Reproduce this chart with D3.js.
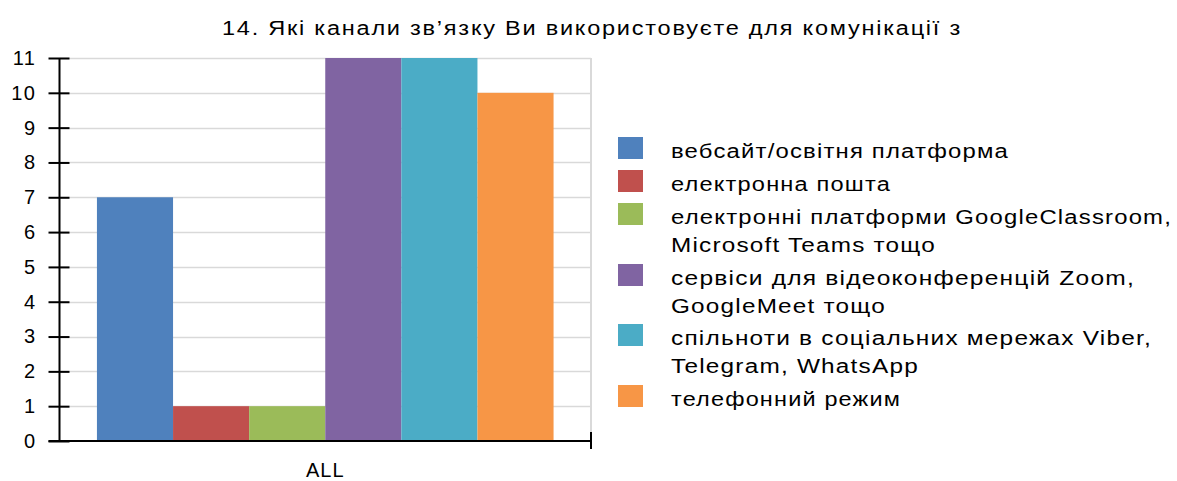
<!DOCTYPE html>
<html><head><meta charset="utf-8">
<script src="https://cdn.jsdelivr.net/npm/d3@7"></script>
<style>
html,body{margin:0;padding:0;background:#fff;}
text{font-family:"Liberation Sans",Arial,sans-serif;fill:#000;}
</style></head>
<body>
<svg id="chart" width="1177" height="481"></svg>
<script>
const title = "14. Які канали зв’язку Ви використовуєте для комунікації з";
const categories = ["ALL"];
const seriesNames = [
  "вебсайт/освітня платформа",
  "електронна пошта",
  "електронні платформи GoogleClassroom, Microsoft Teams тощо",
  "сервіси для відеоконференцій Zoom, GoogleMeet тощо",
  "спільноти в соціальних мережах Viber, Telegram, WhatsApp",
  "телефонний режим"
];
const legendLines = [
  ["вебсайт/освітня платформа"],
  ["електронна пошта"],
  ["електронні платформи GoogleClassroom,", "Microsoft Teams тощо"],
  ["сервіси для відеоконференцій Zoom,", "GoogleMeet тощо"],
  ["спільноти в соціальних мережах Viber,", "Telegram, WhatsApp"],
  ["телефонний режим"]
];
const legendWidths = [[338], [220], [501, 265], [464, 215], [481, 248], [230]];
const values = [7, 1, 1, 11, 11, 10];
const colors = ["#4F81BD", "#C0504D", "#9BBB59", "#8064A2", "#4BACC6", "#F79646"];
const yTicks = [0,1,2,3,4,5,6,7,8,9,10,11];

const svg = d3.select("#chart");
const mLeft = 59.5, mRight = 591, mTop = 58, mBottom = 441;

const y = d3.scaleLinear().domain([0, 11]).range([mBottom, mTop]);
const x0 = d3.scaleBand().domain(categories).range([mLeft, mRight]).paddingInner(0).paddingOuter(0.082);
const x1 = d3.scaleBand().domain(seriesNames).range([0, x0.bandwidth()]);

// title
svg.append("text").attr("x", 222).attr("y", 35).attr("font-size", 20).attr("letter-spacing", 1.5)
  .attr("textLength", 740).attr("lengthAdjust", "spacingAndGlyphs").text(title);

// gridlines
svg.append("g").selectAll("line").data(yTicks.slice(1)).join("line")
  .attr("x1", mLeft).attr("x2", mRight)
  .attr("y1", d => Math.round(y(d)) + 0.5).attr("y2", d => Math.round(y(d)) + 0.5)
  .attr("stroke", "#d9d9d9").attr("stroke-width", 1.5);
svg.append("line").attr("x1", mRight).attr("x2", mRight).attr("y1", mTop).attr("y2", mBottom)
  .attr("stroke", "#d9d9d9").attr("stroke-width", 2);

// bars
const g = svg.append("g").attr("transform", `translate(${x0("ALL")},0)`);
g.selectAll("rect").data(values).join("rect")
  .attr("x", (d, i) => x1(seriesNames[i]))
  .attr("width", x1.bandwidth())
  .attr("y", d => y(d))
  .attr("height", d => y(0) - y(d))
  .attr("fill", (d, i) => colors[i]);

// y axis
const yAxis = d3.axisLeft(y).tickValues(yTicks).tickSize(0).tickPadding(0).tickFormat(d3.format("d"));
const ya = svg.append("g").attr("transform", `translate(${mLeft},0)`).call(yAxis);
ya.select(".domain").remove();
ya.selectAll("text").attr("x", -23).attr("font-size", 20).attr("font-family", "Liberation Sans").attr("fill", "#000")
  .attr("letter-spacing", 1.5);
ya.selectAll(".tick").append("line").attr("x1", -11).attr("x2", 10).attr("stroke", "#000").attr("stroke-width", 2);
svg.append("line").attr("x1", mLeft).attr("x2", mLeft).attr("y1", mTop).attr("y2", mBottom)
  .attr("stroke", "#000").attr("stroke-width", 2);

// x axis
const xAxis = d3.axisBottom(x0).tickSize(0).tickPadding(0);
const xa = svg.append("g").attr("transform", `translate(0,${mBottom})`).call(xAxis);
xa.select(".domain").remove();
xa.selectAll("text").attr("y", 36).attr("dy", 0).attr("font-size", 20).attr("font-family", "Liberation Sans")
  .attr("fill", "#000").attr("letter-spacing", 1);
svg.append("line").attr("x1", mLeft - 11).attr("x2", mRight).attr("y1", mBottom).attr("y2", mBottom)
  .attr("stroke", "#000").attr("stroke-width", 2);
svg.append("line").attr("x1", mRight).attr("x2", mRight).attr("y1", mBottom - 9).attr("y2", mBottom + 8)
  .attr("stroke", "#000").attr("stroke-width", 2);

// legend
const legendTop = [137, 170, 203, 264, 324, 385];
const lg = svg.append("g");
legendLines.forEach((lines, i) => {
  lg.append("rect").attr("x", 618).attr("y", legendTop[i]).attr("width", 25).attr("height", 22).attr("fill", colors[i]);
  lines.forEach((ln, j) => {
    lg.append("text").attr("x", 671).attr("y", legendTop[i] + 21 + j * 27.5)
      .attr("font-size", 20).attr("letter-spacing", 1)
      .attr("textLength", legendWidths[i][j]).attr("lengthAdjust", "spacingAndGlyphs").text(ln);
  });
});
</script>
</body></html>
